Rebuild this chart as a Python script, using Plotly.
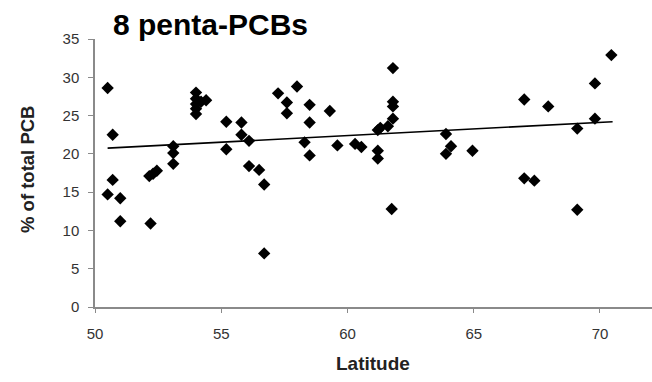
import plotly.graph_objects as go

latitude = [50.5, 50.7, 50.7, 50.5, 51.0, 51.0, 52.2, 52.15, 52.3, 52.45,
            53.1, 53.1, 53.1, 54.0, 54.0, 54.0, 54.0, 54.0, 54.2, 54.4,
            55.2, 55.2, 55.8, 55.8, 56.1, 56.1, 56.5, 56.7, 56.7, 57.25,
            57.6, 57.6, 58.0, 58.5, 58.5, 58.3, 58.5, 59.3, 59.6, 60.3,
            60.55, 61.2, 61.3, 61.6, 61.2, 61.2, 61.8, 61.8, 61.8, 61.8,
            61.75, 63.9, 64.1, 63.9, 64.95, 67.0, 67.0, 67.4, 67.95, 69.1,
            69.1, 69.8, 69.8, 70.45]
pct_total = [28.6, 22.5, 16.6, 14.7, 14.2, 11.2, 10.9, 17.1, 17.4, 17.8,
             21.0, 20.1, 18.7, 28.0, 27.2, 26.5, 25.9, 25.2, 26.8, 27.0,
             24.2, 20.6, 24.1, 22.5, 21.7, 18.4, 17.9, 16.0, 7.0, 27.9,
             26.7, 25.3, 28.8, 26.4, 24.1, 21.5, 19.8, 25.6, 21.1, 21.3,
             20.9, 23.1, 23.4, 23.6, 20.4, 19.4, 31.2, 26.8, 26.2, 24.6,
             12.8, 22.6, 21.0, 20.0, 20.4, 27.1, 16.8, 16.5, 26.2, 23.3,
             12.7, 29.2, 24.6, 32.9]

trend_x = [50.5, 70.5]
trend_y = [20.75, 24.2]

x_ticks = [50, 55, 60, 65, 70]
y_ticks = [0, 5, 10, 15, 20, 25, 30, 35]

W, H = 652, 382
L, R, T, B = 95, 0, 39, 75

fig = go.Figure()
fig.add_trace(go.Scatter(x=latitude, y=pct_total, mode="markers",
                         marker=dict(symbol="diamond", size=9.5, color="black",
                                     line=dict(width=0)),
                         showlegend=False, cliponaxis=False))
fig.add_trace(go.Scatter(x=trend_x, y=trend_y, mode="lines",
                         line=dict(color="black", width=1.6),
                         showlegend=False))

axis_color = "#8a8a8a"
tick_font = dict(family="Liberation Sans, Arial, sans-serif", size=15, color="#333333")

fig.update_layout(
    width=W, height=H,
    margin=dict(l=L, r=R, t=T, b=B),
    paper_bgcolor="white", plot_bgcolor="white",
    xaxis=dict(range=[50, 72.06], tickvals=x_ticks, showgrid=False, zeroline=False,
               showline=True, linecolor=axis_color, linewidth=1.5,
               ticks="outside", ticklen=4, tickcolor=axis_color,
               tickfont=tick_font, ticklabelstandoff=8),
    yaxis=dict(range=[0, 35], tickvals=y_ticks, showgrid=False, zeroline=False,
               showline=True, linecolor=axis_color, linewidth=1.5,
               ticks="outside", ticklen=5, tickcolor=axis_color,
               tickfont=tick_font, ticklabelstandoff=6),
    annotations=[
        dict(text="<b>8 penta-PCBs</b>", xref="paper", yref="paper",
             x=(111 - L) / (W - L - R), y=1 + (T - 25) / (H - T - B),
             xanchor="left", yanchor="middle", showarrow=False,
             font=dict(family="Liberation Sans, Arial, sans-serif", size=30, color="black")),
        dict(text="<b>Latitude</b>", xref="paper", yref="paper",
             x=(373 - L) / (W - L - R), y=-(363 - (H - B)) / (H - T - B),
             xanchor="center", yanchor="middle", showarrow=False,
             font=dict(family="Liberation Sans, Arial, sans-serif", size=19, color="#222222")),
        dict(text="<b>% of total PCB</b>", xref="paper", yref="paper",
             x=-(L - 27) / (W - L - R), y=1 - (170 - T) / (H - T - B),
             xanchor="center", yanchor="middle", showarrow=False, textangle=-90,
             font=dict(family="Liberation Sans, Arial, sans-serif", size=18.5, color="#222222")),
    ],
)

fig.write_html("out.html")
